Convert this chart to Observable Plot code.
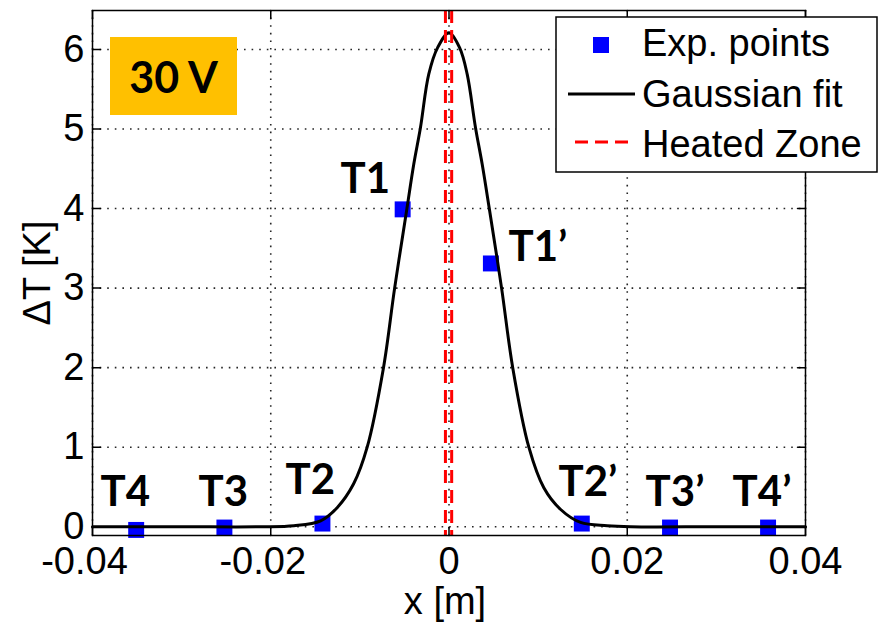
<!DOCTYPE html>
<html><head><meta charset="utf-8">
<script src="https://cdn.jsdelivr.net/npm/d3@7"></script>
<script src="https://cdn.jsdelivr.net/npm/@observablehq/plot@0.6"></script>
<style>
html,body{margin:0;padding:0;background:#fff;}
#wrap{position:relative;width:879px;height:623px;overflow:hidden;background:#fff;}
#wrap svg.plot{position:absolute;left:0;top:0;}
#badge{position:absolute;left:110px;top:37px;width:127px;height:78px;background:#FFC000;
  font-family:Lato,"Open Sans",sans-serif;font-weight:bold;font-size:43px;color:#000;
  display:flex;align-items:center;justify-content:center;}
#legend{position:absolute;left:0;top:0;}
</style></head>
<body><div id="wrap"></div>
<script>
// ---- data ----
const xTicks = [-0.04, -0.02, 0, 0.02, 0.04];
const yTicks = [0, 1, 2, 3, 4, 5, 6];

const fitX = [-0.04, -0.03, -0.0211, -0.0174, -0.0144, -0.01255, -0.0107, -0.00918, -0.00735, -0.0061,
  -0.00472, -0.00395, -0.0032, -0.00227, -0.00125, 0, 0.0012, 0.00204, 0.00297, 0.00372, 0.00452,
  0.0059, 0.00715, 0.00896, 0.01064, 0.0125, 0.01476, 0.01775, 0.0204, 0.03, 0.04];
const fitY = [0, 0, 0, 0.013, 0.075, 0.24, 0.54, 1.0, 2.0, 3.0,
  4.0, 4.56, 5.02, 5.69, 6.03, 6.21, 6.02, 5.69, 5.02, 4.56, 4.0,
  3.0, 2.0, 1.0, 0.49, 0.22, 0.054, 0.013, 0, 0, 0];

const expX = [-0.0351, -0.0252, -0.0142, -0.0052, 0.0047, 0.0149, 0.0248, 0.0358];
const expY = [-0.04, -0.01, 0.04, 3.99, 3.31, 0.04, -0.01, -0.01];
const expLabels = ["T4", "T3", "T2", "T1", "T1’", "T2’", "T3’", "T4’"];
const labelX = [-0.0391, -0.0281, -0.01835, -0.01218, 0.00668, 0.01229, 0.02206, 0.03182];
const labelY = [0.26, 0.26, 0.41, 4.20, 3.34, 0.39, 0.26, 0.26];

const zoneX = [-0.0004, 0.0003];

const annotationText = "30 V";
const legendLabels = ["Exp. points", "Gaussian fit", "Heated Zone"];
const xLabel = "x [m]";
const yLabel = "ΔT [K]";

// ---- build ----
const fit = fitX.map((x, i) => ({x, y: fitY[i]}));
const pts = expX.map((x, i) => ({x, y: expY[i]}));
const labs = expLabels.map((t, i) => ({t, x: labelX[i], y: labelY[i]}));

const tickShape = {draw(ctx, l) { ctx.moveTo(0, 0); ctx.lineTo(0, -l); }};
const tickOpts = {length: 8, anchor: "start", shape: tickShape, stroke: "black", strokeWidth: 1.5};
const gridOpts = {stroke: "#000", strokeOpacity: 0.85, strokeWidth: 1.6, strokeDasharray: "1.6,6"};
const axisFont = "'Liberation Sans', Arial, sans-serif";

const chart = Plot.plot({
  width: 879, height: 623,
  marginLeft: 92, marginRight: 74, marginTop: 10, marginBottom: 88,
  style: {fontFamily: axisFont, fontSize: "38px", background: "transparent", color: "#000"},
  x: {domain: [-0.04, 0.04]},
  y: {domain: [-0.11, 6.49]},
  marks: [
    Plot.gridX(xTicks, gridOpts),
    Plot.gridY(yTicks, gridOpts),
    Plot.dot(pts, {x: "x", y: "y", symbol: "square", r: 9, fill: "#0000FF", stroke: "none"}),
    Plot.line(fit, {x: "x", y: "y", stroke: "black", strokeWidth: 3, curve: "catmull-rom"}),
    Plot.ruleX(zoneX, {stroke: "#FF0000", strokeWidth: 3, strokeDasharray: "13,7"}),
    Plot.frame({stroke: "black", strokeWidth: 1.5}),
    Plot.vector(xTicks, {x: d => d, frameAnchor: "bottom", rotate: 0, ...tickOpts}),
    Plot.vector(xTicks, {x: d => d, frameAnchor: "top", rotate: 180, ...tickOpts}),
    Plot.vector(yTicks, {y: d => d, frameAnchor: "left", rotate: 90, ...tickOpts}),
    Plot.vector(yTicks, {y: d => d, frameAnchor: "right", rotate: -90, ...tickOpts}),
    Plot.axisX(xTicks.filter(d => d >= 0), {tickSize: 0, tickPadding: 12, tickFormat: d => String(d), label: null, fontSize: 38}),
    Plot.axisX(xTicks.filter(d => d < 0), {tickSize: 0, tickPadding: 12, tickFormat: d => String(d), label: null, fontSize: 38, dx: -8}),
    Plot.axisY(yTicks, {tickSize: 0, tickPadding: 8, tickFormat: d => String(d), label: null, fontSize: 38}),
    Plot.text([xLabel], {frameAnchor: "bottom", dy: 78, dx: -4, lineAnchor: "bottom", fontSize: 38}),
    Plot.text([yLabel], {frameAnchor: "left", dx: -55, rotate: -90, textAnchor: "middle", lineAnchor: "middle", fontSize: 38}),
    Plot.text(labs, {x: "x", y: "y", text: "t", textAnchor: "start", lineAnchor: "bottom",
      fontFamily: "Lato, 'Open Sans', sans-serif", fontWeight: "bold", fontSize: 42, fill: "black"})
  ]
});
chart.classList.add("plot");
const wrap = document.getElementById("wrap");
wrap.appendChild(chart);

// annotation badge
const badge = document.createElement("div");
badge.id = "badge";
badge.textContent = annotationText;
wrap.appendChild(badge);

// legend overlay
const leg = d3.select(wrap).append("svg").attr("id", "legend").attr("width", 879).attr("height", 623);
leg.append("rect").attr("x", 556).attr("y", 17).attr("width", 321).attr("height", 155)
  .attr("fill", "white").attr("stroke", "black").attr("stroke-width", 1.5);
leg.append("rect").attr("x", 593).attr("y", 37).attr("width", 16).attr("height", 16).attr("fill", "#0000FF");
leg.append("line").attr("x1", 568).attr("x2", 635).attr("y1", 94).attr("y2", 94)
  .attr("stroke", "black").attr("stroke-width", 3);
leg.append("line").attr("x1", 575).attr("x2", 635).attr("y1", 142).attr("y2", 142)
  .attr("stroke", "#FF0000").attr("stroke-width", 3).attr("stroke-dasharray", "13,7");
const baselines = [56, 107, 157];
leg.selectAll("text.lg").data(legendLabels).join("text").attr("class", "lg")
  .attr("x", 642).attr("y", (d, i) => baselines[i])
  .attr("font-family", axisFont).attr("font-size", 38).attr("fill", "black")
  .text(d => d);
</script>
</body></html>
